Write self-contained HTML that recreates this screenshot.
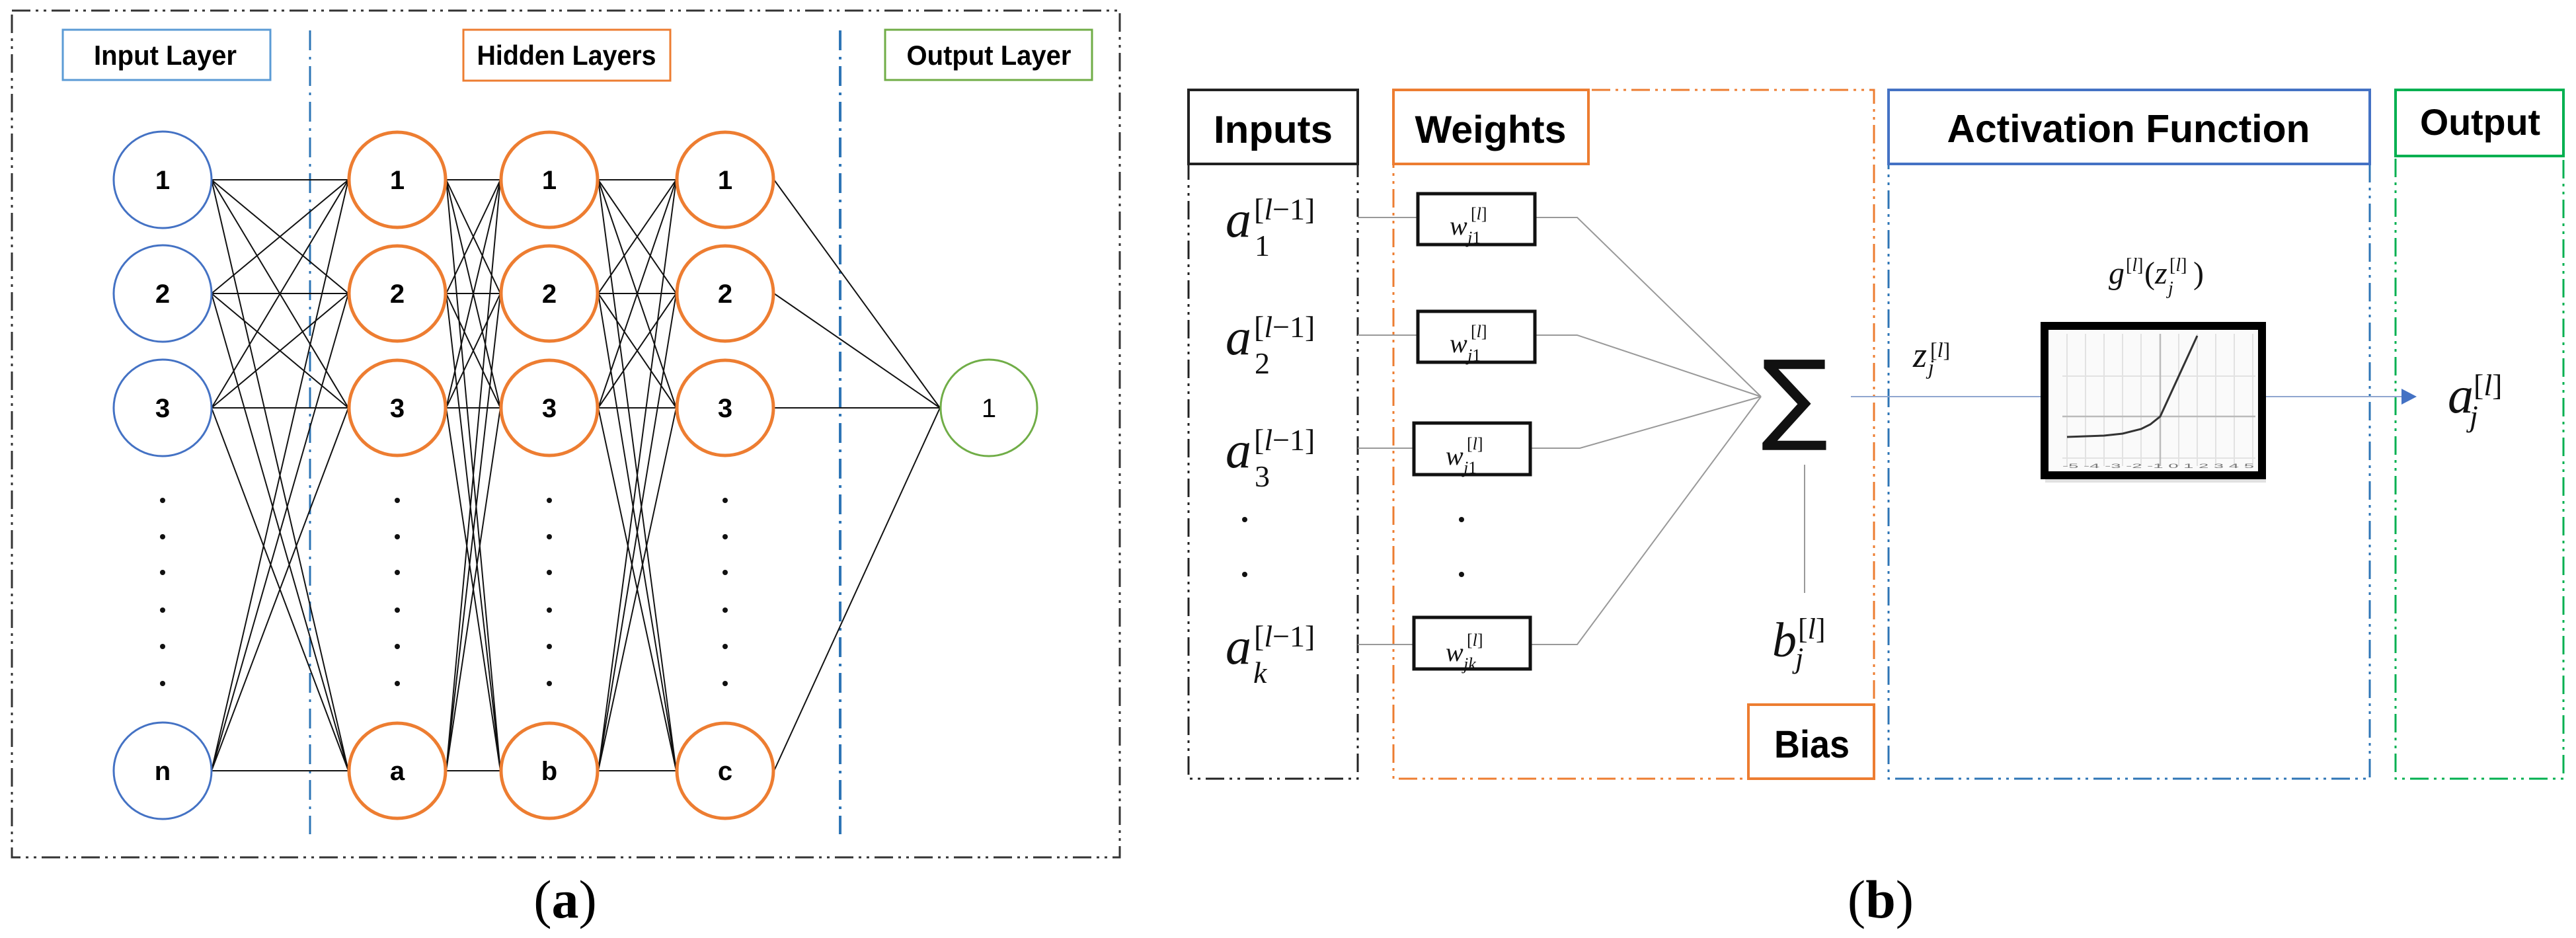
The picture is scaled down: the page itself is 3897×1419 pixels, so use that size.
<!DOCTYPE html>
<html><head><meta charset="utf-8"><style>
html,body{margin:0;padding:0;background:#fff;}
svg{display:block;}
.nb{font-family:"Liberation Sans",sans-serif;font-weight:bold;font-size:40px;text-anchor:middle;}
.hd{font-family:"Liberation Sans",sans-serif;font-weight:bold;}
.m{font-family:"Liberation Serif",serif;font-style:italic;fill:#111;}
.r{font-family:"Liberation Serif",serif;fill:#111;}
</style></head><body>
<svg width="3897" height="1419" viewBox="0 0 3897 1419" xmlns="http://www.w3.org/2000/svg">
<rect width="3897" height="1419" fill="#fff"/>
<!-- (a) -->
<rect x="18" y="16" width="1676" height="1281" fill="none" stroke="#333" stroke-width="3" stroke-dasharray="28 8 4 8 4 8"/>
<line x1="469" y1="46" x2="469" y2="1262" stroke="#2e75b6" stroke-width="3" stroke-dasharray="30 10 4 10"/>
<line x1="1271" y1="46" x2="1271" y2="1262" stroke="#2e75b6" stroke-width="4" stroke-dasharray="30 10 4 10"/>
<rect x="95" y="45" width="314" height="76" fill="none" stroke="#5b9bd5" stroke-width="3"/>
<text class="hd" x="250" y="98" font-size="42" text-anchor="middle" textLength="216" lengthAdjust="spacingAndGlyphs">Input Layer</text>
<rect x="701" y="45" width="313" height="77" fill="none" stroke="#ed7d31" stroke-width="3"/>
<text class="hd" x="857" y="98" font-size="42" text-anchor="middle" textLength="271" lengthAdjust="spacingAndGlyphs">Hidden Layers</text>
<rect x="1339" y="45" width="313" height="76" fill="none" stroke="#70ad47" stroke-width="3"/>
<text class="hd" x="1496" y="98" font-size="42" text-anchor="middle" textLength="249" lengthAdjust="spacingAndGlyphs">Output Layer</text>
<g stroke="#111" stroke-width="2" fill="none">
<path d="M320 272L527 272M320 272L527 444M320 272L527 617M320 272L527 1166M320 444L527 272M320 444L527 444M320 444L527 617M320 444L527 1166M320 617L527 272M320 617L527 444M320 617L527 617M320 617L527 1166M320 1166L527 272M320 1166L527 444M320 1166L527 617M320 1166L527 1166"/>
<path d="M675 272L757 272M675 272L757 444M675 272L757 617M675 272L757 1166M675 444L757 272M675 444L757 444M675 444L757 617M675 444L757 1166M675 617L757 272M675 617L757 444M675 617L757 617M675 617L757 1166M675 1166L757 272M675 1166L757 444M675 1166L757 617M675 1166L757 1166"/>
<path d="M905 272L1023 272M905 272L1023 444M905 272L1023 617M905 272L1023 1166M905 444L1023 272M905 444L1023 444M905 444L1023 617M905 444L1023 1166M905 617L1023 272M905 617L1023 444M905 617L1023 617M905 617L1023 1166M905 1166L1023 272M905 1166L1023 444M905 1166L1023 617M905 1166L1023 1166"/>
<path d="M1171 272L1422 617M1171 444L1422 617M1171 617L1422 617M1171 1166L1422 617"/>
</g>
<g fill="#fff" stroke="#4472c4" stroke-width="3">
<ellipse cx="246" cy="272" rx="74" ry="73"/><ellipse cx="246" cy="444" rx="74" ry="73"/><ellipse cx="246" cy="617" rx="74" ry="73"/><ellipse cx="246" cy="1166" rx="74" ry="73"/>
</g>
<g fill="#fff" stroke="#ed7d31" stroke-width="5">
<ellipse cx="601" cy="272" rx="73" ry="72"/><ellipse cx="601" cy="444" rx="73" ry="72"/><ellipse cx="601" cy="617" rx="73" ry="72"/><ellipse cx="601" cy="1166" rx="73" ry="72"/>
<ellipse cx="831" cy="272" rx="73" ry="72"/><ellipse cx="831" cy="444" rx="73" ry="72"/><ellipse cx="831" cy="617" rx="73" ry="72"/><ellipse cx="831" cy="1166" rx="73" ry="72"/>
<ellipse cx="1097" cy="272" rx="73" ry="72"/><ellipse cx="1097" cy="444" rx="73" ry="72"/><ellipse cx="1097" cy="617" rx="73" ry="72"/><ellipse cx="1097" cy="1166" rx="73" ry="72"/>
</g>
<ellipse cx="1496" cy="617" rx="73" ry="73" fill="#fff" stroke="#70ad47" stroke-width="3"/>
<g class="nb">
<text x="246" y="286">1</text><text x="246" y="458">2</text><text x="246" y="631">3</text><text x="246" y="1180">n</text>
<text x="601" y="286">1</text><text x="601" y="458">2</text><text x="601" y="631">3</text><text x="601" y="1180">a</text>
<text x="831" y="286">1</text><text x="831" y="458">2</text><text x="831" y="631">3</text><text x="831" y="1180">b</text>
<text x="1097" y="286">1</text><text x="1097" y="458">2</text><text x="1097" y="631">3</text><text x="1097" y="1180">c</text>
</g>
<text x="1496" y="631" font-family="Liberation Sans,sans-serif" font-size="40" text-anchor="middle">1</text>
<g fill="#111">
<circle cx="246" cy="757" r="4"/><circle cx="246" cy="812" r="4"/><circle cx="246" cy="866" r="4"/><circle cx="246" cy="923" r="4"/><circle cx="246" cy="978" r="4"/><circle cx="246" cy="1034" r="4"/>
<circle cx="601" cy="757" r="4"/><circle cx="601" cy="812" r="4"/><circle cx="601" cy="866" r="4"/><circle cx="601" cy="923" r="4"/><circle cx="601" cy="978" r="4"/><circle cx="601" cy="1034" r="4"/>
<circle cx="831" cy="757" r="4"/><circle cx="831" cy="812" r="4"/><circle cx="831" cy="866" r="4"/><circle cx="831" cy="923" r="4"/><circle cx="831" cy="978" r="4"/><circle cx="831" cy="1034" r="4"/>
<circle cx="1097" cy="757" r="4"/><circle cx="1097" cy="812" r="4"/><circle cx="1097" cy="866" r="4"/><circle cx="1097" cy="923" r="4"/><circle cx="1097" cy="978" r="4"/><circle cx="1097" cy="1034" r="4"/>
</g>
<text x="855" y="1388" font-family="Liberation Serif,serif" font-size="82" text-anchor="middle">(<tspan font-weight="bold">a</tspan>)</text>

<!-- (b) -->
<rect x="1798" y="136" width="256" height="1042" fill="none" stroke="#222" stroke-width="3" stroke-dasharray="28 8 4 8 4 8"/>
<rect x="1798" y="136" width="256" height="112" fill="#fff" stroke="#222" stroke-width="4"/>
<text class="hd" x="1926" y="216" font-size="58" text-anchor="middle" textLength="180" lengthAdjust="spacingAndGlyphs">Inputs</text>
<rect x="2108" y="136" width="727" height="1042" fill="none" stroke="#ed7d31" stroke-width="3" stroke-dasharray="28 8 4 8 4 8"/>
<rect x="2108" y="136" width="295" height="112" fill="#fff" stroke="#ed7d31" stroke-width="4"/>
<text class="hd" x="2255" y="216" font-size="58" text-anchor="middle" textLength="229" lengthAdjust="spacingAndGlyphs">Weights</text>
<rect x="2645" y="1066" width="190" height="112" fill="#fff" stroke="#ed7d31" stroke-width="4"/>
<text class="hd" x="2741" y="1146" font-size="58" text-anchor="middle" textLength="114" lengthAdjust="spacingAndGlyphs">Bias</text>
<rect x="2857" y="136" width="728" height="1042" fill="none" stroke="#2e75b6" stroke-width="3" stroke-dasharray="28 8 4 8 4 8"/>
<rect x="2857" y="136" width="728" height="112" fill="#fff" stroke="#4472c4" stroke-width="4"/>
<text class="hd" x="3220" y="215" font-size="59" text-anchor="middle" textLength="549" lengthAdjust="spacingAndGlyphs">Activation Function</text>
<rect x="3624" y="136" width="254" height="1042" fill="none" stroke="#00b050" stroke-width="3" stroke-dasharray="28 8 4 8 4 8"/>
<rect x="3624" y="136" width="254" height="100" fill="#fff" stroke="#00b050" stroke-width="4"/>
<text class="hd" x="3752" y="204" font-size="56" text-anchor="middle" textLength="182" lengthAdjust="spacingAndGlyphs">Output</text>

<g stroke="#999" stroke-width="2" fill="none">
<path d="M2054 329H2145M2322 329H2386L2664 600"/>
<path d="M2054 507H2145M2322 507H2386L2664 600"/>
<path d="M2054 678H2139M2315 678H2390L2664 600"/>
<path d="M2054 975H2139M2315 975H2386L2664 600"/>
<path d="M2730 703V897"/>
</g>
<line x1="2800" y1="600" x2="3640" y2="600" stroke="#8fa6cf" stroke-width="2"/>
<polygon points="3633,588 3656,600 3633,612" fill="#4472c4"/>

<g fill="#fff" stroke="#111" stroke-width="5">
<rect x="2145" y="293" width="177" height="77"/>
<rect x="2145" y="471" width="177" height="77"/>
<rect x="2139" y="640" width="176" height="78"/>
<rect x="2139" y="934" width="176" height="78"/>
</g>
<text class="m" x="2193" y="355" font-size="40">w</text><text class="r" x="2225" y="332" font-size="26">[<tspan font-style="italic">l</tspan>]</text><text class="m" x="2220" y="368" font-size="26">j<tspan font-style="normal">1</tspan></text>
<text class="m" x="2193" y="533" font-size="40">w</text><text class="r" x="2225" y="510" font-size="26">[<tspan font-style="italic">l</tspan>]</text><text class="m" x="2220" y="546" font-size="26">j<tspan font-style="normal">1</tspan></text>
<text class="m" x="2187" y="703" font-size="40">w</text><text class="r" x="2219" y="680" font-size="26">[<tspan font-style="italic">l</tspan>]</text><text class="m" x="2214" y="716" font-size="26">j<tspan font-style="normal">1</tspan></text>
<text class="m" x="2187" y="1000" font-size="40">w</text><text class="r" x="2219" y="977" font-size="26">[<tspan font-style="italic">l</tspan>]</text><text class="m" x="2214" y="1013" font-size="26">jk</text>
<text class="m" x="1854" y="358" font-size="78">a</text><text class="r" x="1897" y="332" font-size="46">[<tspan font-style="italic">l</tspan>−1]</text><text class="r" x="1898" y="387" font-size="46">1</text>
<text class="m" x="1854" y="536" font-size="78">a</text><text class="r" x="1897" y="510" font-size="46">[<tspan font-style="italic">l</tspan>−1]</text><text class="r" x="1898" y="565" font-size="46">2</text>
<text class="m" x="1854" y="707" font-size="78">a</text><text class="r" x="1897" y="681" font-size="46">[<tspan font-style="italic">l</tspan>−1]</text><text class="r" x="1898" y="736" font-size="46">3</text>
<text class="m" x="1854" y="1004" font-size="78">a</text><text class="r" x="1897" y="978" font-size="46">[<tspan font-style="italic">l</tspan>−1]</text><text class="m" x="1896" y="1033" font-size="46">k</text>
<g fill="#111">
<circle cx="1883" cy="786" r="4"/><circle cx="1883" cy="869" r="4"/>
<circle cx="2211" cy="786" r="4"/><circle cx="2211" cy="869" r="4"/>
</g>
<text x="2715" y="652" font-family="DejaVu Sans,sans-serif" font-size="150" text-anchor="middle" fill="#111">∑</text>
<text class="m" x="2681" y="993" font-size="74">b</text><text class="r" x="2720" y="966" font-size="44">[<tspan font-style="italic">l</tspan>]</text><text class="m" x="2716" y="1010" font-size="44">j</text>
<text class="m" x="2894" y="555" font-size="54">z</text><text class="r" x="2920" y="540" font-size="32">[<tspan font-style="italic">l</tspan>]</text><text class="m" x="2917" y="566" font-size="32">j</text>
<text class="m" x="3190" y="429" font-size="48">g</text><text class="r" x="3216" y="410" font-size="28">[<tspan font-style="italic">l</tspan>]</text>
<text class="r" x="3244" y="429" font-size="48">(</text><text class="m" x="3260" y="429" font-size="48">z</text>
<text class="r" x="3282" y="410" font-size="28">[<tspan font-style="italic">l</tspan>]</text><text class="m" x="3280" y="445" font-size="28">j</text>
<text class="r" x="3318" y="429" font-size="48">)</text>
<text class="m" x="3703" y="624" font-size="78">a</text><text class="r" x="3742" y="598" font-size="46">[<tspan font-style="italic">l</tspan>]</text><text class="m" x="3736" y="645" font-size="46">j</text>

<rect x="3094" y="494" width="334" height="236" fill="#000" opacity="0.12"/>
<rect x="3093" y="493" width="329" height="226" fill="#fafafa" stroke="#000" stroke-width="12"/>
<g stroke="#e2e2e2" stroke-width="2">
<line x1="3127" y1="505" x2="3127" y2="705"/><line x1="3155" y1="505" x2="3155" y2="705"/><line x1="3183" y1="505" x2="3183" y2="705"/><line x1="3211" y1="505" x2="3211" y2="705"/><line x1="3239" y1="505" x2="3239" y2="705"/>
<line x1="3296" y1="505" x2="3296" y2="705"/><line x1="3324" y1="505" x2="3324" y2="705"/><line x1="3352" y1="505" x2="3352" y2="705"/><line x1="3380" y1="505" x2="3380" y2="705"/><line x1="3408" y1="505" x2="3408" y2="705"/>
<line x1="3120" y1="569" x2="3412" y2="569"/><line x1="3120" y1="693" x2="3412" y2="693"/>
</g>
<g stroke="#bbb" stroke-width="2.5">
<line x1="3268" y1="505" x2="3268" y2="705"/><line x1="3120" y1="630" x2="3412" y2="630"/>
</g>
<path d="M3127 661L3183 659L3211 656L3239 649L3253 642L3268 630L3324 508" fill="none" stroke="#333" stroke-width="3"/>
<text x="3120" y="708" font-family="Liberation Sans,sans-serif" font-size="9" fill="#777" textLength="290" lengthAdjust="spacingAndGlyphs">-5 -4 -3 -2 -1 0 1 2 3 4 5</text>

<text x="2845" y="1388" font-family="Liberation Serif,serif" font-size="82" text-anchor="middle">(<tspan font-weight="bold">b</tspan>)</text>
</svg>
</body></html>
